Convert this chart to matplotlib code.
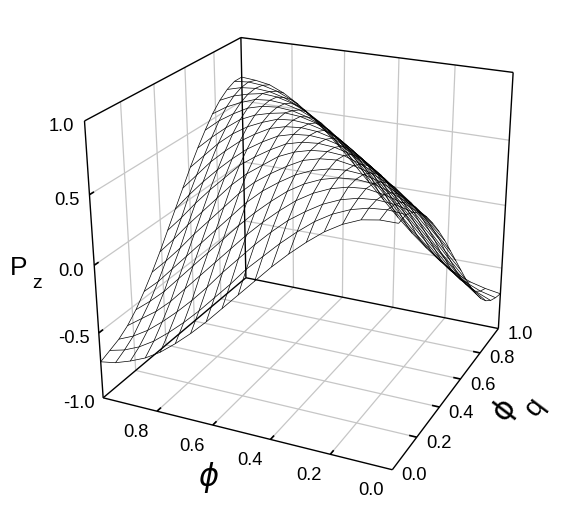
import numpy as np
import matplotlib
matplotlib.use('Agg')
import matplotlib.pyplot as plt
from mpl_toolkits.mplot3d import proj3d

plt.rcParams['font.family'] = ['Liberation Sans', 'DejaVu Sans']

phi_vals = [i / 18 for i in range(19)]
q_vals = [i / 18 for i in range(19)]
z_ticks = [-1.0, -0.5, 0.0, 0.5, 1.0]
xy_ticks = [0.0, 0.2, 0.4, 0.6, 0.8, 1.0]

# Pz, one row per q, phi going 0 -> 1
pz = [
    [.68, .68, .66, .61, .54, .45, .35, .24, .12, .00, -.12, -.24, -.35, -.45, -.54, -.61, -.66, -.70, -.72],
    [.69, .70, .69, .66, .61, .54, .45, .35, .24, .13, .00, -.12, -.24, -.35, -.45, -.54, -.61, -.66, -.69],
    [.66, .69, .70, .69, .66, .61, .54, .46, .36, .25, .13, .01, -.12, -.24, -.35, -.45, -.54, -.61, -.66],
    [.61, .66, .69, .71, .70, .67, .62, .55, .46, .36, .25, .13, .01, -.11, -.23, -.35, -.45, -.53, -.61],
    [.54, .61, .66, .70, .71, .70, .67, .62, .55, .46, .36, .25, .13, .01, -.11, -.23, -.35, -.45, -.54],
    [.45, .54, .61, .67, .70, .71, .70, .67, .62, .55, .47, .37, .25, .13, .01, -.11, -.23, -.35, -.45],
    [.35, .45, .54, .62, .67, .70, .72, .71, .68, .62, .55, .47, .37, .25, .13, .01, -.12, -.24, -.35],
    [.24, .35, .46, .55, .62, .67, .71, .72, .71, .68, .63, .55, .47, .37, .25, .13, .01, -.12, -.24],
    [.12, .24, .36, .46, .55, .62, .68, .71, .72, .71, .68, .62, .55, .47, .36, .25, .13, .00, -.12],
    [.00, .13, .25, .36, .46, .55, .62, .68, .71, .72, .71, .68, .62, .55, .46, .36, .25, .13, .00],
    [-.12, .00, .13, .25, .36, .47, .55, .62, .68, .71, .72, .71, .68, .62, .55, .46, .36, .24, .12],
    [-.24, -.12, .01, .13, .25, .37, .47, .55, .63, .68, .71, .72, .71, .67, .62, .55, .46, .35, .24],
    [-.35, -.24, -.12, .01, .13, .25, .37, .47, .55, .62, .68, .71, .72, .70, .67, .62, .54, .45, .35],
    [-.45, -.35, -.23, -.11, .01, .13, .25, .37, .47, .55, .62, .67, .70, .71, .70, .67, .61, .54, .45],
    [-.54, -.45, -.35, -.23, -.11, .01, .13, .25, .36, .46, .55, .62, .67, .70, .71, .70, .66, .61, .54],
    [-.61, -.53, -.45, -.35, -.23, -.11, .01, .13, .25, .36, .46, .55, .62, .67, .70, .71, .69, .66, .61],
    [-.66, -.61, -.54, -.45, -.35, -.24, -.12, .01, .13, .25, .36, .46, .54, .61, .66, .69, .70, .69, .66],
    [-.69, -.66, -.61, -.54, -.45, -.35, -.24, -.12, .00, .13, .24, .35, .45, .54, .61, .66, .69, .70, .69],
    [-.71, -.69, -.66, -.61, -.54, -.45, -.35, -.24, -.12, .00, .12, .24, .35, .45, .54, .61, .66, .68, .69],
]

GRID = '#c6c6c6'
TICK = 0.025

fig = plt.figure(figsize=(5.77, 5.06), dpi=100)
ax = fig.add_axes([(35.5 + 14.34) / 577, 11.27 / 506, 506 / 577, 1], projection='3d',
                  computed_zorder=False)
ax.set_xlim(1, 0)
ax.set_ylim(0, 1)
ax.set_zlim(-1, 1)
ax.view_init(elev=23.433, azim=-64.986, roll=0.075)
ax.set_proj_type('persp', focal_length=0.522)
ax.set_box_aspect((1.002, 1, 0.939), zoom=1.005)
ax.set_axis_off()


def line(a, b, color='k', lw=1.0, zorder=2):
    ax.plot([a[0], b[0]], [a[1], b[1]], [a[2], b[2]], color=color, lw=lw, zorder=zorder,
            solid_capstyle='butt')


# grid on the floor and the two back walls
for t in xy_ticks[1:-1]:
    line((t, 0, -1), (t, 1, -1), GRID, 0.9, 1)
    line((0, t, -1), (1, t, -1), GRID, 0.9, 1)
    line((t, 1, -1), (t, 1, 1), GRID, 0.9, 1)
    line((1, t, -1), (1, t, 1), GRID, 0.9, 1)
for z in z_ticks[1:-1]:
    line((0, 1, z), (1, 1, z), GRID, 0.9, 1)
    line((1, 0, z), (1, 1, z), GRID, 0.9, 1)

# box outline
line((1, 0, -1), (0, 0, -1))
line((0, 0, -1), (0, 1, -1))
line((0, 1, -1), (1, 1, -1))
line((1, 1, -1), (1, 0, -1))
line((1, 0, -1), (1, 0, 1))
line((1, 1, -1), (1, 1, 1))
line((0, 1, -1), (0, 1, 1))
line((1, 0, 1), (1, 1, 1))
line((1, 1, 1), (0, 1, 1))

# inward ticks
for t in xy_ticks[1:-1]:
    line((t, 0, -1), (t, TICK, -1), 'k', 1.2, 2)
    line((0, t, -1), (TICK, t, -1), 'k', 1.2, 2)
for z in z_ticks[1:-1]:
    line((1, 0, z), (1, TICK, z), 'k', 1.2, 2)

P, Q = np.meshgrid(phi_vals, q_vals)
ax.plot_wireframe(P, Q, np.array(pz), rstride=1, cstride=1, color='k', linewidth=0.5, zorder=3)

fig.canvas.draw()
M = ax.get_proj()


def label(x, y, z, s, dx, dy):
    X, Y, _ = proj3d.proj_transform(x, y, z, M)
    ax.annotate(s, (X, Y), xytext=(dx, dy), textcoords='offset pixels', ha='center',
                va='center', fontsize=13.2, annotation_clip=False)


for t, s, dx in zip(z_ticks, ['-1.0', '-0.5', '0.0', '0.5', '1.0'], [-24, -25, -23, -23, -23]):
    label(1, 0, t, s, dx, -5)
for t in xy_ticks[:-1]:
    label(t, 0, -1, f'{t:.1f}', -21, -20)
for t in xy_ticks:
    label(0, t, -1, f'{t:.1f}', 22, -5)

fig.text(19 / 577, 1 - 268 / 506, 'P', fontsize=19, ha='center', va='center')
fig.text(37 / 577, 1 - 283 / 506, 'z', fontsize=14, ha='center', va='center')
fig.text(208 / 577, 1 - 478 / 506, '\u03d5', fontsize=22, style='italic', family='DejaVu Sans',
         ha='center', va='center')
fig.text(504 / 577, 1 - 409 / 506, '\u03d5', fontsize=22, rotation=53, family='DejaVu Sans',
         ha='center', va='center', rotation_mode='anchor')
fig.text(535 / 577, 1 - 407 / 506, 'q', fontsize=20, rotation=53, ha='center', va='center',
         rotation_mode='anchor')

fig.savefig('out.png', dpi=100)
